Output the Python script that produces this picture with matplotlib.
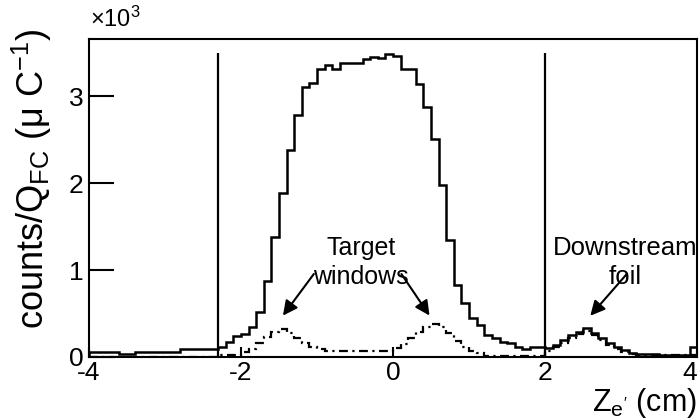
import numpy as np
import matplotlib
matplotlib.use("Agg")
import matplotlib.pyplot as plt

plt.rcParams["font.family"] = ["Liberation Sans", "DejaVu Sans"]
plt.rcParams["mathtext.fontset"] = "custom"
plt.rcParams["mathtext.rm"] = "Liberation Sans"
plt.rcParams["mathtext.it"] = "Liberation Sans:italic"
plt.rcParams["mathtext.bf"] = "Liberation Sans:bold"

# vertex z histogram, 0.1 cm bins from -4 to 4 cm
z_lo, z_hi, n_bins = -4.0, 4.0, 80

# all events, counts per uC
all_counts = [
    55, 55, 55, 55, 40, 40, 55, 55, 55, 55,
    55, 55, 90, 90, 90, 90, 90, 115, 170, 245,
    260, 350, 520, 870, 1380, 1885, 2380, 2780, 3100, 3150,
    3310, 3360, 3310, 3380, 3380, 3380, 3425, 3450, 3435, 3480,
    3460, 3310, 3310, 3140, 2875, 2505, 1975, 1345, 830, 620,
    450, 370, 255, 220, 170, 160, 115, 90, 115, 115,
    100, 140, 195, 250, 290, 330, 280, 215, 160, 115,
    80, 45, 35, 35, 35, 25, 25, 25, 25, 110,
]

# empty-target run, counts per uC
empty_counts = [
    0, 0, 0, 0, 0, 0, 0, 0, 0, 0,
    0, 0, 0, 0, 0, 0, 0, 20, 20, 20,
    55, 90, 160, 230, 290, 320, 280, 215, 160, 115,
    90, 70, 70, 70, 70, 70, 70, 70, 70, 70,
    100, 155, 215, 290, 345, 380, 345, 275, 185, 115,
    65, 45, 15, 15, 15, 15, 15, 15, 15, 15,
    70, 110, 165, 220, 260, 300, 255, 190, 135, 90,
    60, 35, 20, 20, 20, 20, 20, 20, 20, 20,
]

# vertex cut positions (cm)
cuts = [-2.3, 2.0]
cut_top = 3500

edges = np.linspace(z_lo, z_hi, n_bins + 1)

fig = plt.figure(figsize=(7, 4.2), dpi=100)
ax = fig.add_axes([0.127, 0.15, 0.869, 0.757])

ax.stairs(all_counts, edges, color="black", lw=1.8)
ax.stairs(empty_counts, edges, color="black", lw=1.6,
          linestyle=(0, (4, 2, 1, 2)))
for c in cuts:
    ax.vlines(c, 0, cut_top, color="black", lw=1.6)

ax.set_xlim(z_lo, z_hi)
ax.set_ylim(0, 3655)
ax.set_xticks([-4, -2, 0, 2, 4])
ax.set_xticklabels(["-4", "-2", "0", "2", "4"])
ax.get_xticklabels()[-1].set_horizontalalignment("right")
ax.set_yticks([0, 1000, 2000, 3000])
ax.set_yticklabels(["0", "1", "2", "3"])
ax.tick_params(axis="both", direction="in", labelsize=19, width=1.5)
ax.tick_params(axis="y", length=18, pad=4)
ax.tick_params(axis="x", length=7, pad=3)
for s in ax.spines.values():
    s.set_linewidth(1.5)

ax.set_ylabel(r"counts/Q$_{\mathrm{FC}}$ (μ C$^{-1}$)", fontsize=26)
ax.yaxis.set_label_coords(-0.058, 0.56)
ax.set_xlabel(r"Z$_{\mathrm{e'}}$ (cm)", fontsize=22, ha="right")
ax.xaxis.set_label_coords(1.0, -0.09)

fig.text(0.128, 0.925, r"×10$^{3}$", fontsize=17, ha="left", va="bottom")

arrow = dict(arrowstyle="-|>", color="black", lw=1.5, mutation_scale=22)
ax.text(-0.42, 1090, "Target\nwindows", fontsize=18, ha="center", va="center",
        linespacing=1.25)
ax.annotate("", xy=(-1.47, 450), xytext=(-1.02, 980), arrowprops=arrow)
ax.annotate("", xy=(0.5, 450), xytext=(0.09, 980), arrowprops=arrow)
ax.text(3.05, 1090, "Downstream\nfoil", fontsize=18.5, ha="center", va="center",
        linespacing=1.25)
ax.annotate("", xy=(2.57, 450), xytext=(3.1, 980), arrowprops=arrow)

fig.savefig("out.png", dpi=100)
